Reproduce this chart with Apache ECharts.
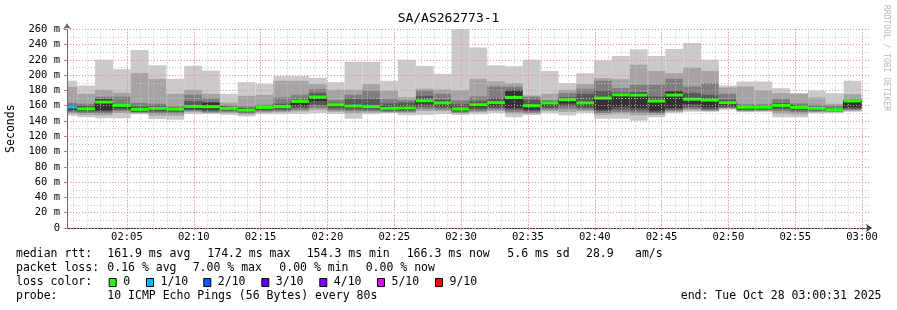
<!DOCTYPE html>
<html><head><meta charset="utf-8">
<script src="https://cdn.jsdelivr.net/npm/echarts@6/dist/echarts.min.js"></script>
<style>html,body{margin:0;padding:0;background:#fff}#c{width:897px;height:310px}</style>
</head><body><div id="c"></div>
<script>
// ---- data ----
const chartTitle = 'SA/AS262773-1';
const startSec = 31;          // 02:00:31 (seconds after 02:00:00)
const endSec = 3631;          // 03:00:31
const firstStepEnd = 77;      // first RRD step boundary (s)
const stepSec = 80;           // probe step (s)
const med = [158.3,156.0,164.8,160.4,155.2,156.5,155.5,158.9,158.7,156.6,154.3,157.8,159.0,165.6,171.3,161.3,159.6,158.9,156.6,157.0,166.5,163.5,155.7,161.3,163.9,170.9,160.0,163.5,167.8,163.5,170.0,174.2,173.9,166.1,173.9,168.5,167.4,163.9,158.0,158.0,160.4,157.8,156.6,154.8,166.3];
const p1 = [147.0,145.0,143.5,143.5,149.0,142.5,141.7,149.0,149.0,148.0,146.0,149.0,149.0,149.0,150.4,149.0,143.0,149.0,150.4,147.4,148.0,149.0,148.0,149.0,150.4,144.8,148.0,150.4,147.4,150.4,143.0,143.0,140.4,144.8,150.4,152.0,152.0,154.8,151.5,151.5,144.8,144.8,150.0,150.5,152.0];
const p2 = [149.5,148.0,147.5,150.5,150.0,147.0,147.0,151.5,150.5,150.5,148.5,151.0,151.5,152.5,154.5,152.0,150.0,151.0,151.0,150.5,153.0,153.0,150.0,151.5,153.0,149.5,149.5,153.0,152.0,153.0,148.0,149.0,147.5,148.0,152.0,154.0,153.0,156.0,152.5,153.0,149.5,148.5,151.5,151.5,153.5];
const p3 = [151.5,150.5,150.0,153.0,151.0,150.0,149.5,153.0,151.5,152.0,150.0,152.5,153.0,154.5,157.0,154.0,153.0,153.0,152.0,152.0,156.0,155.0,151.0,153.0,155.0,152.0,151.0,155.0,156.0,155.0,150.5,152.0,151.0,150.0,153.5,156.0,154.0,157.0,153.5,154.0,153.0,151.5,152.5,152.3,154.5];
const p4 = [153.5,152.5,152.5,155.0,152.0,152.5,152.0,154.5,153.0,153.5,151.5,154.0,155.0,157.0,161.0,156.5,155.5,155.0,153.5,153.5,159.0,157.5,152.5,155.5,157.0,155.0,153.0,157.0,159.5,157.0,153.0,155.0,154.0,151.5,155.0,158.0,155.5,158.0,154.5,155.0,156.0,154.0,153.5,153.0,156.0];
const p5 = [155.0,154.0,154.0,157.0,153.0,154.0,153.5,156.0,155.0,155.0,153.0,156.0,157.0,160.0,166.0,159.0,157.5,157.0,155.0,155.0,163.0,160.0,154.0,158.0,160.0,157.0,155.0,160.0,163.0,160.0,155.0,158.5,157.0,153.5,157.0,162.0,158.0,160.0,156.0,156.5,158.0,156.0,154.5,153.8,158.0];
const p6 = [159.5,157.0,168.0,161.0,156.0,157.5,156.5,160.0,164.0,157.5,155.5,159.0,160.0,166.5,172.0,162.0,160.5,160.0,158.0,160.0,167.5,164.5,157.0,162.5,165.0,179.0,161.0,164.5,169.0,165.0,171.5,176.5,176.5,168.0,178.0,170.0,169.0,165.0,159.0,159.0,161.5,159.0,157.5,156.0,167.0];
const p7 = [161.3,160.0,169.0,162.0,159.0,160.0,157.5,166.0,164.8,158.5,157.0,159.5,162.6,168.0,176.5,164.0,169.1,169.0,163.0,164.0,173.0,168.0,162.0,166.0,170.0,180.9,168.0,166.0,171.0,175.6,180.0,177.0,178.0,172.0,180.0,176.5,174.3,168.0,160.0,160.0,163.5,160.0,158.5,157.0,167.5];
const p8 = [164.0,162.6,171.7,171.7,163.7,162.6,159.0,174.3,170.0,160.4,159.0,161.3,170.9,174.3,181.7,167.8,174.3,179.6,169.1,167.0,179.6,175.6,167.0,172.0,185.2,185.0,171.7,167.0,176.5,182.2,192.6,183.0,187.4,187.4,195.2,185.2,189.6,175.6,162.0,162.0,169.1,163.0,161.0,160.0,169.1];
const p9 = [184.8,175.6,180.9,177.0,202.6,195.0,175.6,180.9,175.6,164.0,173.0,174.3,192.6,192.6,188.3,180.9,180.9,188.3,179.6,171.3,182.2,181.3,180.0,195.2,191.7,189.6,173.5,175.6,180.9,188.3,196.1,194.8,213.5,205.6,202.6,210.0,205.6,183.9,185.2,180.0,176.5,175.6,170.9,162.6,175.2];
const p10 = [192.6,186.5,220.0,207.8,233.0,213.0,195.2,212.2,206.0,175.6,190.9,188.7,199.1,199.1,196.5,190.9,217.4,217.4,192.6,220.0,212.2,201.7,261.3,236.1,213.0,211.7,220.0,205.6,189.6,202.6,219.1,225.2,233.9,225.2,234.3,242.2,220.0,186.5,191.7,191.7,183.0,176.5,179.6,176.5,192.6];
const lossPct = [7,0,0,0,0,0,0,0,0,0,0,0,0,0,0,0,0,0,0,0,0,0,0,0,0,0,0,0,0,0,0,0,0,0,0,0,0,0,0,0,0,0,0,0,0];
const lossThresholds = [0,1,2,3,4,5,9];
const lossLabels = ['0','1/10','2/10','3/10','4/10','5/10','9/10'];
const lossColors = ['#26ff00','#00b8ff','#0059ff','#5e00ff','#7e00ff','#dd00ff','#ff0000'];
const smokeColors = ['#cacaca','#a4a4a4','#7e7e7e','#585858','#323232'];
const xMinorTicks = Array.from({length:60},(_,i)=>(i+1)*60);
const xMajorTicks = [300,600,900,1200,1500,1800,2100,2400,2700,3000,3300,3600];
const medianLegend = [['median rtt:',16],['161.9 ms avg',107.3],['174.2 ms max',207.3],['154.3 ms min',306.7],['166.3 ms now',406.7],['5.6 ms sd',507.3],['28.9',586],['am/s',635]];
const lossLegend = [['packet loss:',16],['0.16 % avg',107.3],['7.00 % max',192.7],['0.00 % min',279.3],['0.00 % now',365.7]];
const probeText = '10 ICMP Echo Pings (56 Bytes) every 80s';
const endText = 'end: Tue Oct 28 03:00:31 2025';
const sideText = 'RRDTOOL / TOBI OETIKER';

// ---- build ----
const FONT = '"DejaVu Sans Mono", monospace';
const segStart = i => i === 0 ? startSec : firstStepEnd + (i-1)*stepSec;
const segEnd = i => firstStepEnd + i*stepSec;
function lossColor(pct){
  if (pct <= 0) return lossColors[0];
  const lost = Math.ceil(pct/10);
  for (let k=1;k<lossThresholds.length;k++) if (lost <= lossThresholds[k]) return lossColors[k];
  return lossColors[lossColors.length-1];
}
const smokeRows = med.map((m,i)=>[segStart(i), segEnd(i), p1[i],p2[i],p3[i],p4[i],p5[i],p6[i],p7[i],p8[i],p9[i],p10[i]]);
const medRows = med.map((m,i)=>[segStart(i), segEnd(i), m, lossPct[i]]);
const medLine = med.map((m,i)=>[segStart(i), m]);
medLine.push([segEnd(med.length-1), med[med.length-1]]);

function clipTo(params, r){
  const cs = params.coordSys;
  return echarts.graphic.clipRectByRect(r, {x:cs.x,y:cs.y,width:cs.width,height:cs.height});
}
function renderSmoke(params, api){
  const t0 = api.value(0), t1 = api.value(1);
  const children = [];
  for (let b=0;b<5;b++){
    const lo = api.value(2+b), hi = api.value(11-b);
    const a = api.coord([t0, hi]), c = api.coord([t1, lo]);
    const r = clipTo(params, {x:a[0], y:a[1], width:c[0]-a[0], height:c[1]-a[1]});
    if (r) children.push({type:'rect', shape:r, style:{fill:smokeColors[b]}});
  }
  return {type:'group', children};
}
function renderMedian(params, api){
  const t0 = api.value(0), t1 = api.value(1), m = api.value(2);
  const a = api.coord([t0, m]), c = api.coord([t1, m]);
  const r = clipTo(params, {x:a[0], y:a[1]-1.5, width:c[0]-a[0], height:3});
  return r ? {type:'rect', shape:r, style:{fill:lossColor(api.value(3))}} : null;
}
function fmtTime(s){
  const t = 7200 + s;
  const hh = Math.floor(t/3600), mm = Math.floor((t%3600)/60);
  return String(hh).padStart(2,'0') + ':' + String(mm).padStart(2,'0');
}

const graphics = [];
graphics.push({type:'text', left:'center', top:12, style:{text:chartTitle, font:'13px '+FONT, fill:'#000'}});
graphics.push({type:'text', x:886, y:5, rotation:-Math.PI/2, style:{text:sideText, font:'8px '+FONT, fill:'#b8b8b8', align:'left', verticalAlign:'middle'}});
function rowText(items, y){ items.forEach(([t,x])=>graphics.push({type:'text', x, y, style:{text:t, font:'11.5px '+FONT, fill:'#000', verticalAlign:'middle'}})); }
rowText(medianLegend, 254.3);
rowText(lossLegend, 268.3);
rowText([['loss color:',16]], 282);
const sqX = [108.7,146,203.3,261.3,319.3,377,435];
lossLabels.forEach((lab,k)=>{
  graphics.push({type:'rect', shape:{x:sqX[k]+0.5, y:278.5, width:7, height:8}, style:{fill:lossColors[k], stroke:'#000', lineWidth:1}});
  graphics.push({type:'text', x:sqX[k]+14.5, y:282, style:{text:lab, font:'11.5px '+FONT, fill:'#000', verticalAlign:'middle'}});
});
rowText([['probe:',16],[probeText,107.3]], 296.3);
graphics.push({type:'text', x:881.5, y:296.3, style:{text:endText, font:'11.5px '+FONT, fill:'#000', align:'right', verticalAlign:'middle'}});

const chart = echarts.init(document.getElementById('c'), null, {renderer:'canvas'});
chart.setOption({
  animation:false,
  backgroundColor:'#fff',
  grid:{left:67, right:28, top:29.3, bottom:82, containLabel:false, outerBoundsMode:'none'},
  xAxis:[
    {type:'value', min:startSec, max:endSec, position:'bottom', z:8,
     axisLine:{show:true, lineStyle:{color:'#303030', width:1}, symbol:['none','arrow'], symbolSize:[6,6], symbolOffset:[0,3]},
     axisTick:{show:true, length:2, customValues:xMinorTicks, lineStyle:{color:'#c8c8c8'}},
     axisLabel:{show:false},
     splitLine:{show:true, lineStyle:{color:'#c4c4c4', type:[1,2], width:1}}},
    {type:'value', min:startSec, max:endSec, position:'bottom', z:9,
     axisLine:{show:false},
     axisTick:{show:true, length:2, customValues:xMajorTicks, lineStyle:{color:'#e87070'}},
     axisLabel:{show:true, customValues:xMajorTicks, formatter:v=>fmtTime(v), margin:4, color:'#000', fontFamily:'DejaVu Sans Mono', fontSize:10.5},
     splitLine:{show:true, lineStyle:{color:'#ec8c8c', type:[1,2], width:1}}}
  ],
  yAxis:{type:'value', min:0, max:260, interval:20, z:9,
    name:'Seconds', nameLocation:'middle', nameGap:50, nameRotate:90,
    nameTextStyle:{fontFamily:'DejaVu Sans Mono', fontSize:11.5, color:'#000'},
    axisLine:{show:true, lineStyle:{color:'#6a6a6a', width:1}, symbol:['none','arrow'], symbolSize:[6,6], symbolOffset:[0,6]},
    axisTick:{show:true, length:3, lineStyle:{color:'#e87070'}},
    axisLabel:{margin:7, color:'#000', fontFamily:'DejaVu Sans Mono', fontSize:10.5, formatter:v=>v===0?'0':v+' m'},
    splitLine:{show:true, lineStyle:{color:'#ec8c8c', type:[1,2], width:1}},
    minorTick:{show:false, splitNumber:2},
    minorSplitLine:{show:true, lineStyle:{color:'#c4c4c4', type:[1,2], width:1}}},
  series:[
    {type:'custom', name:'smoke', xAxisIndex:0, z:1, renderItem:renderSmoke, data:smokeRows, encode:{x:[0,1], y:[2,11]}, silent:true},
    {type:'line', name:'median', xAxisIndex:0, z:4, step:'end', symbol:'none', data:medLine, lineStyle:{color:'#202020', width:1}, silent:true},
    {type:'custom', name:'loss', xAxisIndex:0, z:5, renderItem:renderMedian, data:medRows, encode:{x:[0,1], y:2}, silent:true}
  ],
  graphic:graphics
});
</script></body></html>
